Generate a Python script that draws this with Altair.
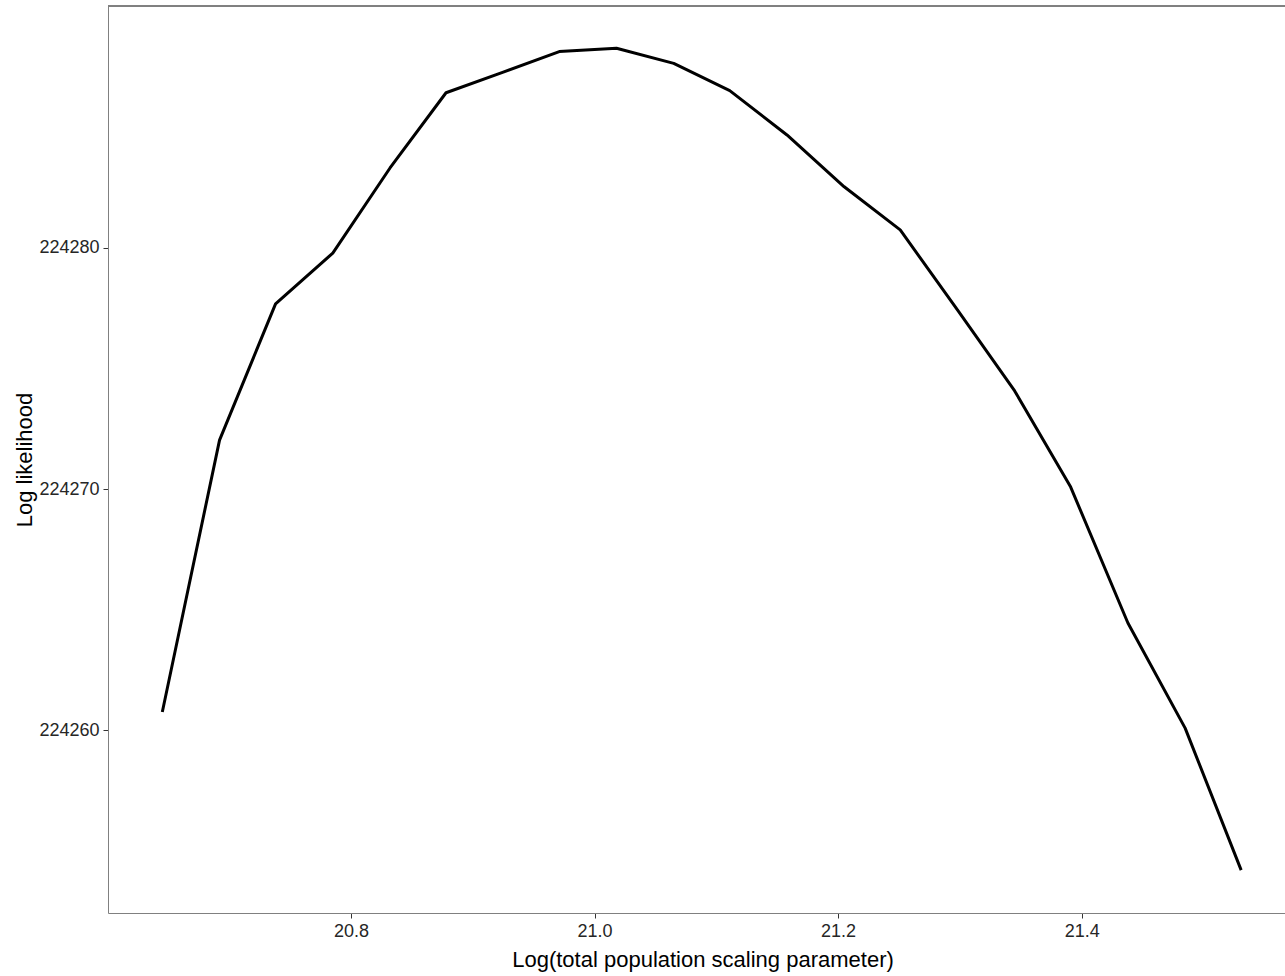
import altair as alt
import pandas as pd

# Profile log-likelihood over the log total population scaling parameter
log_scaling = [20.645, 20.692, 20.738, 20.785, 20.832, 20.878, 20.925, 20.971,
               21.018, 21.065, 21.111, 21.158, 21.205, 21.251, 21.298, 21.345,
               21.391, 21.438, 21.485, 21.531]
log_likelihood = [224260.75, 224272.03, 224277.68, 224279.79, 224283.32,
                  224286.44, 224287.30, 224288.15, 224288.29, 224287.66,
                  224286.53, 224284.69, 224282.54, 224280.75, 224277.43,
                  224274.07, 224270.08, 224264.44, 224260.08, 224254.19]

x_ticks = [20.8, 21.0, 21.2, 21.4]
y_ticks = [224260, 224270, 224280]

df = pd.DataFrame({"x": log_scaling, "y": log_likelihood})

W, H = 1177, 907
FONT = "Liberation Sans"
FRAME = "#808080"
TEXT = "#262626"

x_enc = alt.X(
    "x:Q",
    scale=alt.Scale(domain=[20.6004, 21.567], nice=False, zero=False),
    axis=alt.Axis(
        values=x_ticks, format=".1f", title="Log(total population scaling parameter)",
        grid=False, domain=True, domainColor=FRAME, domainWidth=1,
        tickColor="#333333", tickSize=5, tickWidth=1,
        labelFont=FONT, labelFontSize=18, labelColor=TEXT, labelPadding=4,
        titleFont=FONT, titleFontSize=22, titleFontWeight="normal", titleColor="#000000",
        titleX=594.5, titleY=53, titleBaseline="alphabetic", titleAlign="center",
    ),
)
y_enc = alt.Y(
    "y:Q",
    scale=alt.Scale(domain=[224252.41, 224290.04], nice=False, zero=False),
    axis=alt.Axis(
        values=y_ticks, format="d", title="Log likelihood",
        grid=False, domain=True, domainColor=FRAME, domainWidth=1,
        tickColor="#333333", tickSize=5, tickWidth=1,
        labelFont=FONT, labelFontSize=18, labelColor=TEXT, labelPadding=4,
        titleFont=FONT, titleFontSize=22, titleFontWeight="normal", titleColor="#000000",
        titleX=-77, titleY=453.5, titleBaseline="alphabetic", titleAlign="center",
        titleAngle=270,
    ),
)

curve = alt.Chart(df).mark_line(
    color="#000000", strokeWidth=3, strokeJoin="round", strokeCap="butt"
).encode(x=x_enc, y=y_enc)

# top edge of the panel frame
top_edge = alt.Chart(df).mark_rule(color=FRAME, strokeWidth=1).encode(
    x=alt.value(0), x2=alt.value(W), y=alt.value(0)
)

chart = alt.layer(curve, top_edge).properties(
    width=W,
    height=H,
    padding={"left": 108, "top": 6, "right": 0, "bottom": 63},
    autosize=alt.AutoSizeParams(type="none"),
    background="#ffffff",
).configure_view(strokeWidth=0)

chart.save("out.html", embed_options={"renderer": "svg", "actions": False})
